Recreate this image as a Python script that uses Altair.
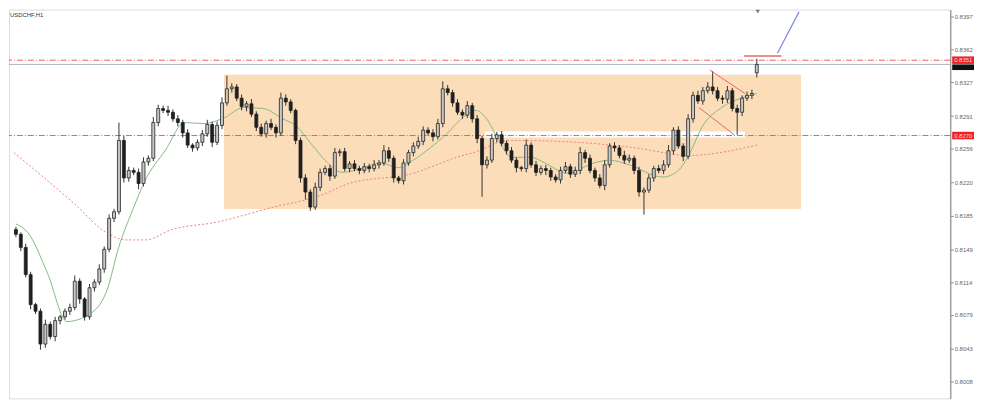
import altair as alt
import pandas as pd

title_text = "USDCHF,H1"

# closes of the candles (one per bar, left to right)
closes = [
    0.8165, 0.8151, 0.8122, 0.8090, 0.8083, 0.8048, 0.8069, 0.8056, 0.8073, 0.8077,
    0.8083, 0.8087, 0.8115, 0.8096, 0.8077, 0.8108, 0.8114, 0.8128, 0.8149, 0.8182,
    0.8189, 0.8265, 0.8225, 0.8233, 0.8231, 0.8219, 0.8242, 0.8246, 0.8284, 0.8299,
    0.8297, 0.8295, 0.8288, 0.8284, 0.8273, 0.8260, 0.8257, 0.8263, 0.8272, 0.8282,
    0.8263, 0.8281, 0.8305, 0.8320, 0.8322, 0.8310, 0.8301, 0.8304, 0.8293, 0.8279,
    0.8272, 0.8283, 0.8279, 0.8273, 0.8310, 0.8306, 0.8297, 0.8265, 0.8225, 0.8210,
    0.8194, 0.8215, 0.8231, 0.8235, 0.8227, 0.8252, 0.8253, 0.8235, 0.8240, 0.8235,
    0.8233, 0.8237, 0.8235, 0.8239, 0.8241, 0.8254, 0.8246, 0.8225, 0.8222, 0.8241,
    0.8252, 0.8259, 0.8264, 0.8276, 0.8273, 0.8269, 0.8283, 0.8320, 0.8316, 0.8305,
    0.8295, 0.8292, 0.8302, 0.8288, 0.8267, 0.8239, 0.8244, 0.8267, 0.8271, 0.8262,
    0.8254, 0.8244, 0.8236, 0.8235, 0.8260, 0.8239, 0.8231, 0.8235, 0.8233, 0.8226,
    0.8223, 0.8233, 0.8237, 0.8229, 0.8233, 0.8252, 0.8246, 0.8233, 0.8225, 0.8217,
    0.8239, 0.8259, 0.8257, 0.8249, 0.8244, 0.8246, 0.8233, 0.8210, 0.8212, 0.8225,
    0.8235, 0.8233, 0.8239, 0.8254, 0.8276, 0.8259, 0.8248, 0.8288, 0.8313, 0.8307,
    0.8318, 0.8322, 0.8318, 0.8310, 0.8309, 0.8318, 0.8299, 0.8295, 0.8310, 0.8313,
    0.8315, 0.8346,
]
first_open = 0.8170
last_open = 0.8337  # the last bar opens after a gap

upper_wick_pips = [
    3, 2, 4, 3, 2, 3, 5, 3, 4, 2,
    3, 4, 6, 3, 2, 4, 3, 5, 3, 4,
    3, 19, 5, 4, 3, 4, 5, 3, 6, 4,
    3, 5, 3, 4, 3, 4, 2, 3, 4, 5,
    3, 4, 6, 14, 4, 3, 4, 3, 5, 3,
    4, 3, 5, 3, 6, 4, 3, 2, 3, 4,
    3, 5, 4, 3, 4, 5, 3, 4, 3, 4,
    3, 4, 3, 5, 3, 6, 4, 3, 2, 4,
    3, 4, 5, 4, 3, 4, 5, 8, 4, 3,
    4, 3, 5, 3, 4, 3, 4, 5, 3, 4,
    3, 4, 3, 2, 6, 3, 4, 3, 4, 3,
    3, 4, 5, 3, 4, 6, 3, 4, 3, 4,
    5, 3, 4, 3, 5, 4, 3, 4, 3, 4,
    3, 4, 5, 6, 3, 4, 3, 5, 4, 5,
    4, 5, 17, 4, 3, 5, 3, 4, 3, 4,
    4, 6,
]
lower_wick_pips = [
    3, 4, 3, 5, 3, 6, 4, 3, 5, 4,
    3, 4, 3, 5, 4, 3, 4, 3, 4, 3,
    4, 3, 5, 4, 3, 6, 3, 4, 3, 4,
    3, 4, 3, 4, 5, 3, 4, 3, 4, 3,
    5, 3, 4, 3, 4, 3, 4, 5, 3, 4,
    3, 4, 3, 5, 3, 4, 3, 4, 5, 8,
    4, 3, 4, 3, 5, 3, 4, 3, 4, 3,
    4, 3, 4, 3, 4, 3, 4, 5, 3, 4,
    3, 4, 3, 4, 3, 5, 3, 4, 3, 4,
    3, 4, 3, 4, 5, 34, 4, 3, 4, 3,
    4, 3, 5, 3, 4, 3, 4, 3, 5, 4,
    3, 4, 3, 4, 3, 4, 5, 3, 4, 3,
    5, 3, 4, 3, 4, 3, 4, 5, 24, 3,
    4, 3, 4, 3, 4, 3, 5, 3, 4, 3,
    4, 3, 4, 3, 5, 4, 3, 24, 4, 3,
    4, 5,
]

# moving averages (bar index, price)
green_ma_idx = [0, 2.4, 6.4, 10.4, 14.4, 18.4, 21, 23.8, 26.4, 30.4, 34.4, 38.4, 42.4, 46.4,
                50.4, 54.4, 57, 60.4, 63, 66.4, 71, 74.4, 77.8, 81, 84.4, 87.8, 90.4, 93.8,
                95.8, 98.4, 101, 105, 107.8, 112.4, 117.8, 121, 125, 131.8, 135, 137.4,
                139.8, 143.8, 147.8, 151]
green_ma_val = [0.8176, 0.8167, 0.8124, 0.8072, 0.8078, 0.8103, 0.8152, 0.8191, 0.8223, 0.8254,
                0.8284, 0.8283, 0.8289, 0.8300, 0.8299, 0.8288, 0.8281, 0.8260, 0.8244, 0.8231,
                0.8236, 0.8241, 0.8236, 0.8244, 0.8257, 0.8272, 0.8286, 0.8297, 0.8289, 0.8265,
                0.8247, 0.8247, 0.8241, 0.8230, 0.8241, 0.8244, 0.8239, 0.8226, 0.8233, 0.8252,
                0.8279, 0.8300, 0.8310, 0.8315]
red_ma_idx = [-0.4, 11.8, 18.4, 22.4, 26.4, 31.8, 41, 51.8, 62.4, 67.8, 81, 89.8, 94.4, 98.4,
              101, 114.4, 126.4, 137, 151]
red_ma_val = [0.8252, 0.8198, 0.8167, 0.8159, 0.8159, 0.8170, 0.8178, 0.8193, 0.8207, 0.8219,
              0.8230, 0.8247, 0.8254, 0.8263, 0.8265, 0.8263, 0.8257, 0.8249, 0.8260]

# drawn objects
zone_x = [42.4, 160.0]
zone_y = [0.8192, 0.8335]
band_x = [95.6, 148.6]
band_y = [0.8268, 0.82745]
upper_level = 0.83505
lower_level = 0.82702
level_prices = [upper_level, lower_level]
level_labels = ["0.8351", "0.8270"]
bid_price = 0.8346
channel_x1 = [141.4, 139.2]
channel_y1 = [0.8340, 0.8300]
channel_x2 = [148.6, 146.4]
channel_y2 = [0.8315, 0.8271]
short_red_x = [148.4, 156.0]
short_red_y = [0.8355, 0.8355]
blue_x = [155.2, 159.6]
blue_y = [0.8358, 0.8402]
arrow_idx = 151.2

y_ticks = [0.8008, 0.8043, 0.8079, 0.8114, 0.8149, 0.8185, 0.8220, 0.8256, 0.8291,
           0.8327, 0.8362, 0.8397]

W, H = 949, 392
Y_DOMAIN = [0.79901, 0.84044]
X_DOMAIN = [-0.4, -0.4 + W / 5.0]

# ---- build candle table
opens = [first_open] + closes[:-1]
opens[-1] = last_open
n = len(closes)
rows = []
for i in range(n):
    o, c = opens[i], closes[i]
    hi = max(o, c) + upper_wick_pips[i] * 0.0001
    lo = min(o, c) - lower_wick_pips[i] * 0.0001
    rows.append({"i": i, "open": o, "close": c, "high": hi, "low": lo,
                 "dir": "up" if c >= o else "down"})
candles = pd.DataFrame(rows)

xs = alt.Scale(domain=X_DOMAIN, nice=False, zero=False)
ys = alt.Scale(domain=Y_DOMAIN, nice=False, zero=False)

y_axis = alt.Axis(orient="right", values=y_ticks, format=".4f", grid=False, title=None,
                  labelFontSize=6, labelColor="#666", tickColor="#888",
                  tickSize=3, domainColor="#a0a0a0", domainWidth=1.5,
                  labelPadding=1, labelOverlap=False, labelBound=False,
                  labelFont="Liberation Sans")


def X(f):
    return alt.X(f, type="quantitative", scale=xs, axis=None)


def Yn(f):
    return alt.Y(f, type="quantitative", scale=ys, axis=y_axis, title=None)


def level_line(price):
    return alt.Chart(pd.DataFrame({"p": [price]})).mark_rule(
        color="#F25A5A", strokeWidth=1, strokeDash=[6, 2, 1, 2]).encode(y=Yn("p"))


zone = alt.Chart(pd.DataFrame({"x": [zone_x[0]], "x2": [zone_x[1]], "p": [zone_y[0]],
                               "p2": [zone_y[1]]})).mark_rect(color="#FCDDB9").encode(
    x=X("x"), x2="x2", y=Yn("p"), y2="p2")

band = alt.Chart(pd.DataFrame({"x": [band_x[0]], "x2": [band_x[1]], "p": [band_y[0]],
                               "p2": [band_y[1]]})).mark_rect(color="#ffffff").encode(
    x=X("x"), x2="x2", y=Yn("p"), y2="p2")

red_ma = alt.Chart(pd.DataFrame({"x": red_ma_idx, "p": red_ma_val})).mark_line(
    color="#EE8080", strokeWidth=1, strokeDash=[2, 2], interpolate="monotone").encode(
    x=X("x"), y=Yn("p"))

green_ma = alt.Chart(pd.DataFrame({"x": green_ma_idx, "p": green_ma_val})).mark_line(
    color="#86B886", strokeWidth=1, interpolate="monotone").encode(
    x=X("x"), y=Yn("p"))

bid = alt.Chart(pd.DataFrame({"p": [bid_price]})).mark_rule(
    color="#A7B3C0", strokeWidth=1).encode(y=Yn("p"))

wicks = alt.Chart(candles).mark_rule(color="#333333", strokeWidth=1).encode(
    x=X("i"), y=Yn("low"), y2="high")

bodies = alt.Chart(candles).mark_bar(size=3, stroke="#222222", strokeWidth=0.8).encode(
    x=X("i"), y=Yn("open"), y2="close",
    fill=alt.Fill("dir:N", scale=alt.Scale(domain=["up", "down"], range=["#c8c8c8", "#1e1e1e"]),
                  legend=None))

channel = alt.Chart(pd.DataFrame({"x": channel_x1, "p": channel_y1, "x2": channel_x2,
                                  "p2": channel_y2})).mark_rule(
    color="#E06A6A", strokeWidth=1).encode(x=X("x"), x2="x2", y=Yn("p"), y2="p2")

short_red = alt.Chart(pd.DataFrame({"x": [short_red_x[0]], "x2": [short_red_x[1]],
                                    "p": [short_red_y[0]], "p2": [short_red_y[1]]})).mark_rule(
    color="#E06A6A", strokeWidth=1.5).encode(x=X("x"), x2="x2", y=Yn("p"), y2="p2")

blue = alt.Chart(pd.DataFrame({"x": [blue_x[0]], "x2": [blue_x[1]],
                               "p": [blue_y[0]], "p2": [blue_y[1]]})).mark_rule(
    color="#7F86E0", strokeWidth=1.2).encode(x=X("x"), x2="x2", y=Yn("p"), y2="p2")

arrow = alt.Chart(pd.DataFrame({"x": [arrow_idx]})).mark_point(
    shape="triangle-down", filled=True, color="#444", size=18).encode(
    x=X("x"), y=alt.value(2))

title = alt.Chart(pd.DataFrame({"t": [title_text]})).mark_text(
    align="left", baseline="middle", fontSize=6, color="#333", font="Liberation Sans").encode(
    text="t:N", x=alt.value(1), y=alt.value(5))

lbl_df = pd.DataFrame({"p": level_prices, "lo": [v - 0.00040 for v in level_prices],
                       "hi": [v + 0.00040 for v in level_prices], "t": level_labels})
bid_df = pd.DataFrame({"lo": [bid_price - 0.00060], "hi": [bid_price]})
bid_box = alt.Chart(bid_df).mark_rect(color="#111").encode(
    x=alt.value(W + 2), x2=alt.value(W + 24), y=Yn("lo"), y2="hi")
lbl_box = alt.Chart(lbl_df).mark_rect(color="#EE2222").encode(
    x=alt.value(W + 2), x2=alt.value(W + 24), y=Yn("lo"), y2="hi")
lbl_txt = alt.Chart(lbl_df).mark_text(
    align="left", baseline="middle", fontSize=6, color="#ffdddd", font="Liberation Sans").encode(
    x=alt.value(W + 4), y=Yn("p"), text="t:N")

chart = alt.layer(
    zone, band, red_ma, green_ma, level_line(upper_level), level_line(lower_level), bid,
    wicks, bodies, channel, short_red, blue, arrow, title, bid_box, lbl_box, lbl_txt
).properties(width=W, height=H, padding=0).configure_view(
    stroke="#9a9a9a", strokeWidth=1.5
).configure(background="#ffffff")

chart.save("out.html", embed_options={"renderer": "svg", "actions": False})
